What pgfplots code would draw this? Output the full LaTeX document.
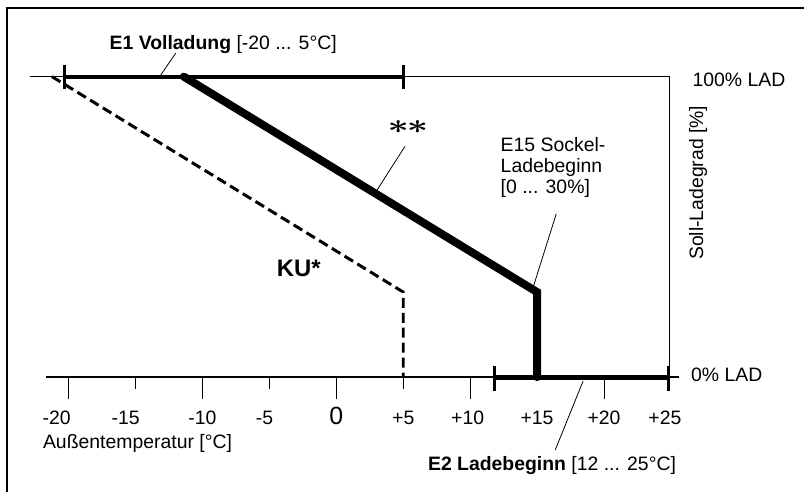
\documentclass[border=0pt]{standalone}
\usepackage{fontspec}
\setmainfont{Liberation Sans}
\usepackage{bm}
\usepackage{graphicx}
\usepackage{pgfplots}
\pgfplotsset{compat=1.18}
\newcommand{\tf}{\fontsize{19.5}{21.5}\selectfont}
\newcommand{\stars}{\scalebox{1.5}[1.1]{\fontsize{24.88}{25}\selectfont$\bm{\ast}\mkern-1mu\bm{\ast}$}}
\begin{document}
\begin{tikzpicture}[font=\tf]
\begin{axis}[
  x=13.45pt, y=3.02pt,
  xmin=-21.7, xmax=25.6, ymin=0, ymax=100,
  axis x line*=bottom, axis y line=none,
  axis line style={line width=2pt, -},
  xtick={-20,-15,-10,-5,0,5,10,15,20,25},
  xticklabels={-20\kern24pt, -15\kern20pt, -10, -5\kern10pt, {\fontsize{25}{25}\selectfont 0}, +5, +10\kern5pt, +15, +20, +25\kern12pt},
  major tick length=0pt,
  xticklabel style={anchor=base, yshift=-48pt, font=\tf},
  clip=false,
]
% thin top line and right border of the diagram
\addplot[black, line width=1.5pt] coordinates {(-22.9,100) (24.9,100) (24.9,0)};
% E1 range
\addplot[black, line width=4pt] coordinates {(-20.3,100) (5,100)};
\addplot[black, line width=3pt] coordinates {(-20.3,96) (-20.3,104)};
\addplot[black, line width=3pt] coordinates {(5,96) (5,104)};
% E2 range
\addplot[black, line width=5pt] coordinates {(11.8,0) (24.8,0)};
\addplot[black, line width=3pt] coordinates {(11.8,3.6) (11.8,-4.6)};
\addplot[black, line width=3pt] coordinates {(24.8,3.6) (24.8,-4.6)};
% KU dashed curve
\addplot[black, line width=3pt, dash pattern=on 10pt off 5pt] coordinates {(-21.25,100) (5,28.3) (5,0)};
% ** thick curve
\addplot[black, line width=8pt, line cap=round, line join=miter] coordinates {(-11.4,100) (15,28.3) (15,0)};
% tick marks
\addplot[black, line width=1pt, ycomb] coordinates {(-20,-7.3) (-10,-7.3) (0,-7.3) (10,-7.3) (20,-7.3)};
\addplot[black, line width=1pt, ycomb] coordinates {(-15,-4) (-5,-4) (5,-4)};
% leader lines
\addplot[black, line width=0.8pt] coordinates {(-12.0,107.8) (-13.2,100)};
\addplot[black, line width=0.8pt] coordinates {(5.13,76.8) (3.05,62.3)};
\addplot[black, line width=0.8pt] coordinates {(16.43,54.3) (14.72,30.1)};
\addplot[black, line width=0.8pt] coordinates {(16.36,-24.2) (18.44,-1.3)};
% texts
\node[anchor=base west, inner sep=0pt] at (axis cs:-16.95,108.9) {\textbf{E1 Volladung} [-20 ... 5°C]};
\node[inner sep=0pt] at (axis cs:5.35,83.1) {\stars};
\node[anchor=base west, inner sep=0pt] at (axis cs:-4.46,33.4) {\fontsize{24}{24}\selectfont\textbf{KU*}};
\node[anchor=base west, inner sep=0pt] at (axis cs:12.27,75.2) {E15 Sockel-};
\node[anchor=base west, inner sep=0pt] at (axis cs:12.27,68.2) {Ladebeginn};
\node[anchor=base west, inner sep=0pt] at (axis cs:12.27,61.0) {[0 ... 30\%]};
\node[anchor=base west, inner sep=0pt] at (axis cs:26.6,96.7) {100\% LAD};
\node[anchor=base west, inner sep=0pt] at (axis cs:26.5,-1.3) {0\% LAD};
\node[anchor=base, rotate=90, inner sep=0pt] at (axis cs:27.4,64.7) {Soll-Ladegrad [\%]};
\node[anchor=base west, inner sep=0pt] at (axis cs:-21.93,-23.8) {Außentemperatur [°C]};
\node[anchor=base west, inner sep=0pt] at (axis cs:6.84,-31.1) {\textbf{E2 Ladebeginn} [12 ... 25°C]};
\coordinate (O) at (axis cs:0,0);
\end{axis}
\pgfresetboundingbox
\path ([shift={(-338pt,-111pt)}]O) rectangle ([shift={(467pt,379pt)}]O);
\draw[line width=2pt] ([shift={(-331pt,-115pt)}]O) -- ([shift={(-331pt,371pt)}]O) -- ([shift={(470pt,371pt)}]O);
\end{tikzpicture}
\end{document}
